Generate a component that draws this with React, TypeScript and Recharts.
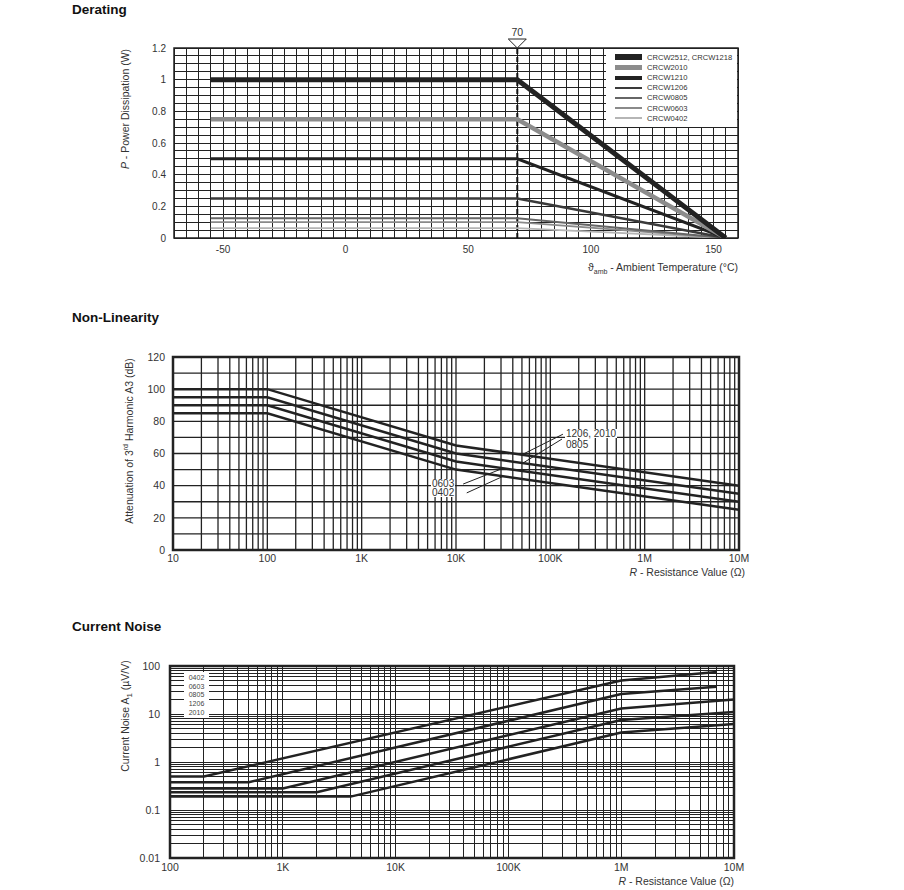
import React from "react"
import {
  LineChart,
  Line,
  XAxis,
  YAxis,
  CartesianGrid,
  ReferenceLine,
  ReferenceDot,
  ReferenceArea,
} from "recharts"

const FONT = '"Liberation Sans", Arial, Helvetica, sans-serif'

// ---- Derating ----
const DERATING_NAMES = [
  "CRCW2512, CRCW1218",
  "CRCW2010",
  "CRCW1210",
  "CRCW1206",
  "CRCW0805",
  "CRCW0603",
  "CRCW0402",
]
const DERATING_TEMPS = [-55, 70, 155]
const DERATING_VALUES = [
  [1.0, 1.0, 0],
  [0.75, 0.75, 0],
  [0.5, 0.5, 0],
  [0.25, 0.25, 0],
  [0.125, 0.125, 0],
  [0.1, 0.1, 0],
  [0.063, 0.063, 0],
]
const DERATING_X_TICKS = [-50, 0, 50, 100, 150]
const DERATING_Y_TICKS = [0, 0.2, 0.4, 0.6, 0.8, 1, 1.2]
const DERATING_KNEE = 70

// ---- Non-Linearity ----
const NL_NAMES = ["1206, 2010", "0805", "0603", "0402"]
const NL_R = [10, 100, 10000, 10000000]
const NL_VALUES = [
  [100, 100, 65, 40],
  [95, 95, 60, 35],
  [90, 90, 55, 30],
  [85, 85, 50, 25],
]
const NL_X_TICKS = [10, 100, 1000, 10000, 100000, 1000000, 10000000]
const NL_X_LABELS = ["10", "100", "1K", "10K", "100K", "1M", "10M"]
const NL_Y_TICKS = [0, 20, 40, 60, 80, 100, 120]

// ---- Current Noise ----
const NOISE_NAMES = ["0402", "0603", "0805", "1206", "2010"]
const NOISE_R = [
  [100, 200, 1000000, 7000000],
  [100, 500, 1000000, 7000000],
  [100, 1000, 1000000, 10000000],
  [100, 2000, 1000000, 10000000],
  [100, 4000, 1000000, 10000000],
]
const NOISE_A = [
  [0.5, 0.5, 50, 75],
  [0.38, 0.38, 26, 37],
  [0.28, 0.28, 13, 20],
  [0.235, 0.235, 7.5, 11],
  [0.19, 0.19, 4.1, 6.2],
]
const NOISE_X_TICKS = [100, 1000, 10000, 100000, 1000000, 10000000]
const NOISE_X_LABELS = ["100", "1K", "10K", "100K", "1M", "10M"]
const NOISE_Y_TICKS = [0.01, 0.1, 1, 10, 100]

// styles
const DERATING_STYLE = [
  { color: "#222", width: 5 },
  { color: "#8c8c8c", width: 4.5 },
  { color: "#222", width: 3 },
  { color: "#3a3a3a", width: 2.5 },
  { color: "#666", width: 2 },
  { color: "#8a8a8a", width: 1.8 },
  { color: "#b5b5b5", width: 1.8 },
]

const range = (from: number, to: number, step: number) => {
  const out: number[] = []
  for (let v = from; v <= to + step / 1000; v += step) out.push(+v.toFixed(4))
  return out
}

const logGrid = (fromExp: number, toExp: number) => {
  const out: number[] = []
  for (let d = fromExp; d < toExp; d++)
    for (let k = 1; k < 10; k++) out.push(+(k * Math.pow(10, d)).toPrecision(3))
  out.push(Math.pow(10, toExp))
  return out
}

const deratingData = DERATING_TEMPS.map((t, i) => {
  const row: Record<string, number> = { t }
  DERATING_VALUES.forEach((vals, s) => (row[`s${s}`] = vals[i]))
  return row
})

const nlData = NL_R.map((r, i) => {
  const row: Record<string, number> = { r }
  NL_VALUES.forEach((vals, s) => (row[`s${s}`] = vals[i]))
  return row
})

const noiseData = NOISE_NAMES.map((_, s) =>
  NOISE_R[s].map((r, i) => ({ r, a: NOISE_A[s][i] }))
)

const tick = { fontSize: 10.5, fill: "#333", fontFamily: FONT }

const label = (x: number, y: number, extra: React.CSSProperties = {}): React.CSSProperties => ({
  position: "absolute",
  left: x,
  top: y,
  fontFamily: FONT,
  fontSize: 10.5,
  color: "#333",
  whiteSpace: "nowrap",
  lineHeight: 1,
  ...extra,
})

const title = (y: number): React.CSSProperties => ({
  position: "absolute",
  left: 72,
  top: y - 8,
  fontFamily: FONT,
  fontSize: 13.5,
  fontWeight: "bold",
  color: "#111",
  whiteSpace: "nowrap",
})

const rotated = (cx: number, cy: number): React.CSSProperties => ({
  position: "absolute",
  left: cx,
  top: cy,
  transform: "translate(-50%, -50%) rotate(-90deg)",
  fontFamily: FONT,
  fontSize: 10.5,
  color: "#333",
  whiteSpace: "nowrap",
  lineHeight: 1,
})

const annot = (x: number, y: number): React.CSSProperties =>
  label(x, y, { background: "#fff", fontSize: 10, lineHeight: "9px", height: 9, padding: "0 1px" })

const Marker70 = (props: { cx?: number; cy?: number }) => {
  const cx = props.cx ?? 0
  const cy = props.cy ?? 0
  return (
    <g>
      <polygon
        points={`${cx - 9},${cy - 9} ${cx + 9},${cy - 9} ${cx},${cy}`}
        fill="#fff"
        stroke="#222"
        strokeWidth={1}
      />
      <text x={cx} y={cy - 12} textAnchor="middle" fontSize={10.5} fill="#333" fontFamily={FONT}>
        {DERATING_KNEE}
      </text>
    </g>
  )
}

function DeratingChart() {
  return (
    <div style={{ position: "absolute", left: 0, top: 0 }}>
      <LineChart width={904} height={290} data={deratingData} margin={{ top: 48, right: 166, bottom: 22, left: 0 }}>
        <CartesianGrid
          stroke="#222"
          strokeWidth={1}
          shapeRendering="crispEdges"
          verticalValues={range(-70, 160, 5)}
          horizontalValues={range(0, 1.2, 0.05)}
        />
        <XAxis
          type="number"
          dataKey="t"
          domain={[-70, 160]}
          ticks={DERATING_X_TICKS}
          interval={0}
          axisLine={false}
          tickLine={false}
          height={30}
          tick={{ ...tick, fontSize: 10 }}
          allowDataOverflow
        />
        <YAxis
          type="number"
          domain={[0, 1.2]}
          ticks={DERATING_Y_TICKS}
          interval={0}
          width={174}
          axisLine={false}
          tickLine={false}
          tick={{ ...tick, fontSize: 10 }}
          allowDataOverflow
        />
        <ReferenceArea x1={-70} x2={160} y1={0} y2={1.2} fill="none" stroke="#222" strokeWidth={1.5} ifOverflow="visible" />
        <ReferenceLine x={DERATING_KNEE} stroke="#111" strokeWidth={2} strokeDasharray="5 3" />
        {DERATING_NAMES.map((n, i) => (
          <Line
            key={n}
            type="linear"
            dataKey={`s${i}`}
            name={n}
            stroke={DERATING_STYLE[i].color}
            strokeWidth={DERATING_STYLE[i].width}
            dot={false}
            isAnimationActive={false}
          />
        )).reverse()}
        <ReferenceDot x={DERATING_KNEE} y={1.2} ifOverflow="visible" shape={Marker70} />
      </LineChart>
      <div style={{ position: "absolute", left: 606, top: 49, width: 131, height: 78, background: "#fff" }}>
        {DERATING_NAMES.map((n, i) => (
          <div
            key={n}
            style={{
              position: "absolute",
              left: 9,
              top: 8.3 + i * 10.17 - 5,
              height: 10,
              display: "flex",
              alignItems: "center",
            }}
          >
            <span
              style={{
                display: "inline-block",
                width: 27,
                height: Math.max(1, DERATING_STYLE[i].width + (i < 3 ? 1 : 0)),
                background: DERATING_STYLE[i].color,
              }}
            />
            <span style={{ marginLeft: 5, fontSize: 7.6, color: "#333", fontFamily: FONT, whiteSpace: "nowrap" }}>{n}</span>
          </div>
        ))}
      </div>
      <div style={title(10)}>Derating</div>
      <div style={rotated(125, 109)}>
        <i>P</i> - Power Dissipation (W)
      </div>
      <div style={label(0, 262, { left: "auto", right: 166 })}>
        ϑ<span style={{ fontSize: 7, position: "relative", top: 3 }}>amb</span> - Ambient Temperature (°C)
      </div>
    </div>
  )
}

function NonLinearityChart() {
  return (
    <div style={{ position: "absolute", left: 0, top: 290 }}>
      <LineChart width={904} height={310} data={nlData} margin={{ top: 67, right: 165, bottom: 20, left: 0 }}>
        <CartesianGrid
          stroke="#222"
          strokeWidth={1.3}
          verticalValues={logGrid(1, 7)}
          horizontalValues={range(0, 120, 10)}
        />
        <XAxis
          type="number"
          dataKey="r"
          scale="log"
          domain={[10, 10000000]}
          ticks={NL_X_TICKS}
          tickFormatter={(v: number) => NL_X_LABELS[NL_X_TICKS.indexOf(v)] ?? ""}
          interval={0}
          axisLine={false}
          tickLine={false}
          tickMargin={-1}
          height={30}
          tick={tick}
          allowDataOverflow
        />
        <YAxis
          type="number"
          domain={[0, 120]}
          ticks={NL_Y_TICKS}
          interval={0}
          width={173}
          axisLine={false}
          tickLine={false}
          tick={tick}
          allowDataOverflow
        />
        <ReferenceArea x1={10} x2={10000000} y1={0} y2={120} fill="none" stroke="#222" strokeWidth={2.5} ifOverflow="visible" />
        {NL_NAMES.map((n, i) => (
          <Line
            key={n}
            type="linear"
            dataKey={`s${i}`}
            name={n}
            stroke="#222"
            strokeWidth={2.5}
            dot={false}
            isAnimationActive={false}
          />
        ))}
        <ReferenceLine segment={[{ x: 136000, y: 72 }, { x: 49800, y: 59.2 }]} stroke="#222" strokeWidth={1} ifOverflow="visible" />
        <ReferenceLine segment={[{ x: 133000, y: 69 }, { x: 51400, y: 54.1 }]} stroke="#222" strokeWidth={1} ifOverflow="visible" />
        <ReferenceLine segment={[{ x: 11900, y: 41 }, { x: 31500, y: 50.8 }]} stroke="#222" strokeWidth={1} ifOverflow="visible" />
        <ReferenceLine segment={[{ x: 13000, y: 35.5 }, { x: 31500, y: 45.8 }]} stroke="#222" strokeWidth={1} ifOverflow="visible" />
      </LineChart>
      <div style={annot(565, 428.5 - 290)}>{NL_NAMES[0]}</div>
      <div style={annot(565, 439.5 - 290)}>{NL_NAMES[1]}</div>
      <div style={annot(431, 478.5 - 290)}>{NL_NAMES[2]}</div>
      <div style={annot(431, 488 - 290)}>{NL_NAMES[3]}</div>
      <div style={title(318 - 290)}>Non-Linearity</div>
      <div style={rotated(128, 441 - 290)}>
        Attenuation of 3<sup style={{ fontSize: 7 }}>rd</sup> Harmonic A3 (dB)
      </div>
      <div style={label(0, 567 - 290, { left: "auto", right: 159 })}>
        <i>R</i> - Resistance Value (Ω)
      </div>
    </div>
  )
}

function CurrentNoiseChart() {
  return (
    <div style={{ position: "absolute", left: 0, top: 600 }}>
      <LineChart width={904} height={290} margin={{ top: 66, right: 170, bottom: 12, left: 0 }}>
        <CartesianGrid
          stroke="#222"
          strokeWidth={1}
          shapeRendering="crispEdges"
          verticalValues={logGrid(2, 7)}
          horizontalValues={logGrid(-2, 2)}
        />
        <XAxis
          type="number"
          dataKey="r"
          scale="log"
          domain={[100, 10000000]}
          ticks={NOISE_X_TICKS}
          tickFormatter={(v: number) => NOISE_X_LABELS[NOISE_X_TICKS.indexOf(v)] ?? ""}
          interval={0}
          axisLine={false}
          tickLine={false}
          tickMargin={0}
          height={20}
          tick={tick}
          allowDataOverflow
        />
        <YAxis
          type="number"
          dataKey="a"
          scale="log"
          domain={[0.01, 100]}
          ticks={NOISE_Y_TICKS}
          tickFormatter={(v: number) => String(v)}
          interval={0}
          width={170}
          axisLine={false}
          tickLine={false}
          tickMargin={4}
          tick={tick}
          allowDataOverflow
        />
        <ReferenceArea x1={100} x2={10000000} y1={0.01} y2={100} fill="none" stroke="#222" strokeWidth={2.5} ifOverflow="visible" />
        {NOISE_NAMES.map((n, i) => (
          <Line
            key={n}
            data={noiseData[i]}
            type="linear"
            dataKey="a"
            name={n}
            stroke="#222"
            strokeWidth={2.5}
            dot={false}
            isAnimationActive={false}
          />
        ))}
      </LineChart>
      <div style={{ position: "absolute", left: 184, top: 672 - 600, width: 25, height: 46, background: "#fff" }}>
        {NOISE_NAMES.map((n, i) => (
          <div
            key={n}
            style={{
              position: "absolute",
              left: 0,
              width: 25,
              top: 6 + i * 8.7 - 4,
              textAlign: "center",
              fontFamily: FONT,
              fontSize: 7,
              lineHeight: "8px",
              color: "#444",
            }}
          >
            {n}
          </div>
        ))}
      </div>
      <div style={title(627 - 600)}>Current Noise</div>
      <div style={rotated(125, 716 - 600)}>
        Current Noise A<span style={{ fontSize: 8, position: "relative", top: 3 }}>1</span> (µV/V)
      </div>
      <div style={label(0, 876 - 600, { left: "auto", right: 170 })}>
        <i>R</i> - Resistance Value (Ω)
      </div>
    </div>
  )
}

export default function App() {
  return (
    <div style={{ position: "absolute", left: 0, top: 0, width: 904, height: 890, background: "#fff", overflow: "hidden" }}>
      <DeratingChart />
      <NonLinearityChart />
      <CurrentNoiseChart />
    </div>
  )
}
